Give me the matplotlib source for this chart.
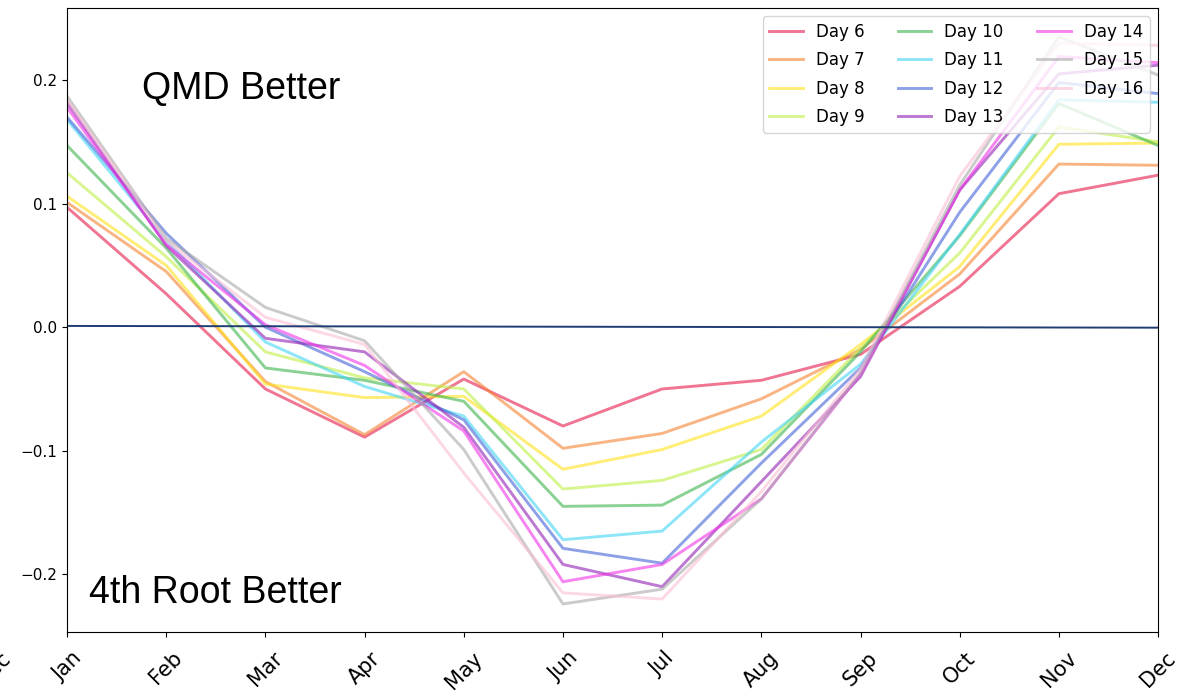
import matplotlib
matplotlib.use("Agg")
from matplotlib import pyplot as plt
import numpy as np

months = ["Jan", "Feb", "Mar", "Apr", "May", "Jun",
          "Jul", "Aug", "Sep", "Oct", "Nov", "Dec"]

day6  = [0.097, 0.027, -0.050, -0.089, -0.042, -0.080, -0.050, -0.043, -0.022, 0.033, 0.108, 0.123]
day7  = [0.101, 0.045, -0.044, -0.087, -0.036, -0.098, -0.086, -0.058, -0.018, 0.043, 0.132, 0.131]
day8  = [0.106, 0.050, -0.046, -0.057, -0.056, -0.115, -0.099, -0.072, -0.014, 0.049, 0.148, 0.149]
day9  = [0.125, 0.057, -0.020, -0.041, -0.050, -0.131, -0.124, -0.099, -0.017, 0.060, 0.162, 0.150]
day10 = [0.147, 0.064, -0.033, -0.043, -0.060, -0.145, -0.144, -0.103, -0.020, 0.074, 0.181, 0.147]
day11 = [0.168, 0.070, -0.012, -0.048, -0.072, -0.172, -0.165, -0.093, -0.030, 0.075, 0.184, 0.182]
day12 = [0.170, 0.076, 0.000, -0.036, -0.075, -0.179, -0.191, -0.110, -0.033, 0.093, 0.198, 0.189]
day13 = [0.182, 0.066, -0.009, -0.020, -0.081, -0.192, -0.210, -0.125, -0.040, 0.111, 0.205, 0.212]
day14 = [0.178, 0.067, 0.002, -0.031, -0.084, -0.206, -0.192, -0.139, -0.038, 0.111, 0.219, 0.214]
day15 = [0.187, 0.072, 0.016, -0.011, -0.099, -0.224, -0.212, -0.139, -0.037, 0.115, 0.235, 0.204]
day16 = [0.184, 0.070, 0.008, -0.014, -0.118, -0.215, -0.220, -0.133, -0.034, 0.122, 0.230, 0.228]

series = [day6, day7, day8, day9, day10, day11, day12, day13, day14, day15, day16]
labels = ["Day %d" % d for d in range(6, 17)]
colors = ["#e6194b", "#f58231", "#ffe119", "#bfef45", "#3cb44b", "#42d4f4",
          "#4363d8", "#911eb4", "#f032e6", "#a9a9a9", "#fabed4"]

zero_x = [0, 11]
zero_y = [0.001, -0.0004]

fig = plt.figure(figsize=(11.78, 7.0), dpi=100)
ax = fig.add_axes([0.0569, 0.0971, 0.9262, 0.8915])

x = np.arange(len(months))
for vals, lab, col in zip(series, labels, colors):
    ax.plot(x, vals, color=col, alpha=0.6, lw=2.1, label=lab)

ax.plot(zero_x, zero_y, color="#1f3d73", lw=1.4)

ax.set_xlim(0, 11)
ax.set_ylim(-0.2467, 0.2583)
ax.set_xticks(x)
ax.set_xticklabels(months, rotation=45, fontsize=15)
ax.tick_params(axis="x", pad=8)
ax.set_yticks([-0.2, -0.1, 0.0, 0.1, 0.2])
ax.tick_params(axis="y", labelsize=11)

# leftover label from the cropped-off tick left of Jan
ax.annotate("Dec", xy=(-0.75, 0), xycoords=("data", "axes fraction"),
            xytext=(0, -11.5), textcoords="offset points", rotation=45,
            ha="center", va="top", fontsize=15, annotation_clip=False)

ax.text(0.0687, 0.854, "QMD Better", transform=ax.transAxes,
        fontsize=27, family="Liberation Sans", va="baseline")
ax.text(0.0202, 0.0465, "4th Root Better", transform=ax.transAxes,
        fontsize=27, family="Liberation Sans", va="baseline")

ax.legend(loc="upper right", ncol=3, fontsize=12, labelspacing=0.62)

plt.savefig("out.png", dpi=100)
